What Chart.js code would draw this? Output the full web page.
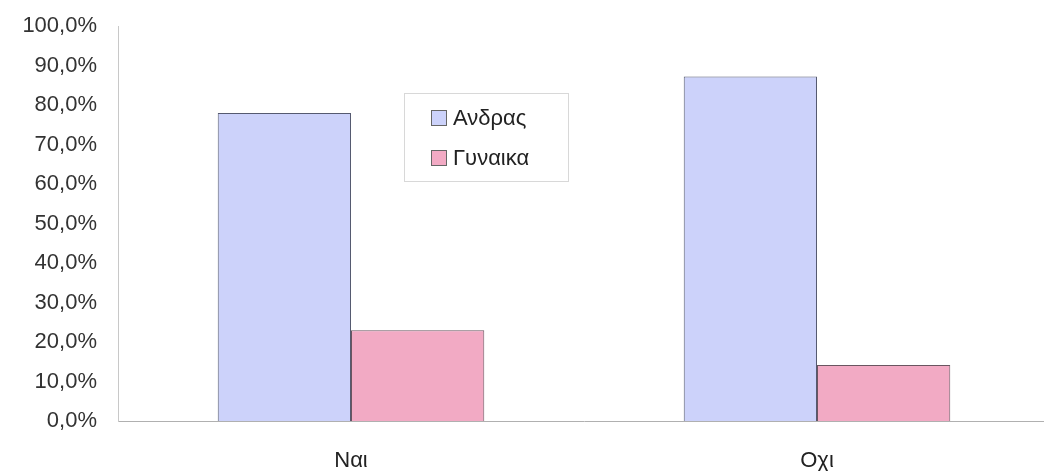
<!DOCTYPE html>
<html>
<head>
<meta charset="utf-8">
<script src="https://cdn.jsdelivr.net/npm/chart.js@4.4.0/dist/chart.umd.min.js"></script>
<style>
  html, body { margin: 0; padding: 0; background: #fff; overflow: hidden; }
  #wrap { width: 1050px; height: 471px; }
</style>
</head>
<body>
<div id="wrap"><canvas id="chart" width="1050" height="471"></canvas></div>
<script>
const categories = ['Ναι', 'Οχι'];
const seriesNames = ['Ανδρας', 'Γυναικα'];
const maleValues = [78.0, 87.2];
const femaleValues = [23.0, 14.2];
const yTicks = [0, 10, 20, 30, 40, 50, 60, 70, 80, 90, 100];

const FONT = '"Liberation Sans", Arial, sans-serif';

// legend box sitting inside the plot, like the original
const boxLegend = {
    id: 'boxLegend',
    afterDraw(chart) {
        const ctx = chart.ctx;
        ctx.save();
        ctx.strokeStyle = '#d8d8d8';
        ctx.lineWidth = 1;
        ctx.strokeRect(404.5, 93.5, 164, 88);
        chart.data.datasets.forEach((ds, i) => {
            const y = 118 + i * 40;
            ctx.fillStyle = ds.backgroundColor;
            ctx.fillRect(431, y - 8, 16, 16);
            ctx.strokeStyle = '#666';
            ctx.strokeRect(431.5, y - 7.5, 15, 15);
            ctx.fillStyle = '#222';
            ctx.font = '22px ' + FONT;
            ctx.textBaseline = 'middle';
            ctx.fillText(ds.label, 453, y + 1);
        });
        ctx.restore();
    }
};

new Chart(document.getElementById('chart'), {
    type: 'bar',
    data: {
        labels: categories,
        datasets: [
            {
                label: seriesNames[0],
                data: maleValues,
                backgroundColor: 'rgb(204, 210, 250)',
                borderColor: '#555a70',
                borderWidth: 1
            },
            {
                label: seriesNames[1],
                data: femaleValues,
                backgroundColor: 'rgb(242, 170, 196)',
                borderColor: '#6a5560',
                borderWidth: 1
            }
        ]
    },
    options: {
        responsive: false,
        animation: false,
        layout: { padding: { top: 26, left: 0, right: 0, bottom: 0 } },
        categoryPercentage: 0.572,
        barPercentage: 1.0,
        plugins: {
            legend: { display: false },
            tooltip: { enabled: false }
        },
        scales: {
            x: {
                grid: { display: false },
                border: { color: '#b0b0b0' },
                ticks: { color: '#222', font: { family: FONT, size: 22 }, padding: 19 },
                afterFit: s => { s.height = 50; }
            },
            y: {
                min: 0,
                max: 100,
                afterBuildTicks: s => { s.ticks = yTicks.map(v => ({ value: v })); },
                grid: { display: false, drawTicks: false },
                border: { color: '#c8c8c8' },
                ticks: {
                    color: '#333',
                    font: { family: FONT, size: 22 },
                    padding: 21,
                    callback: v => v.toFixed(1).replace('.', ',') + '%'
                },
                afterFit: s => { s.width = 118; s.paddingTop = 0; s.paddingBottom = 0; }
            }
        }
    },
    plugins: [boxLegend]
});
</script>
</body>
</html>
